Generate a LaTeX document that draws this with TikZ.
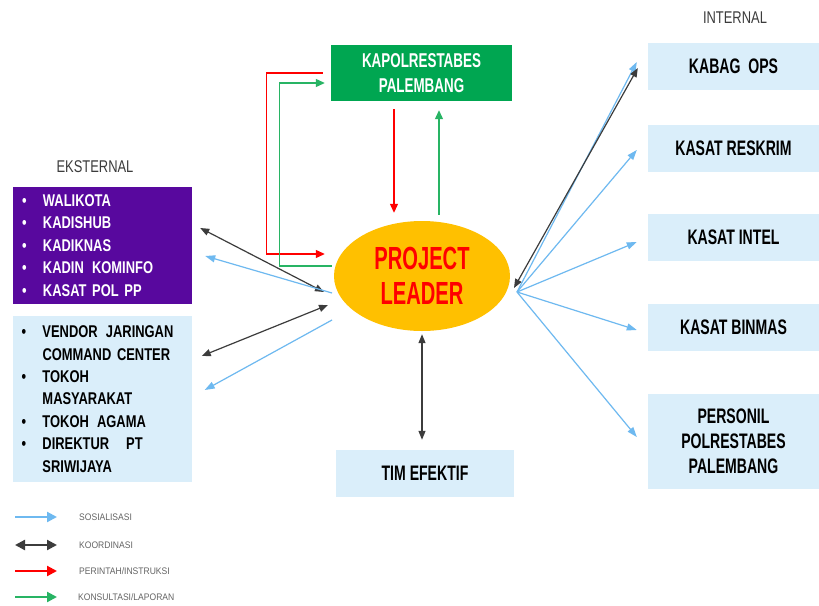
\documentclass[tikz,border=0pt]{standalone}
\usepackage{fontspec}
\setmainfont{Liberation Sans}[FakeStretch=0.67]
\newfontfamily\leftfont{Liberation Sans}[FakeStretch=0.76]
\newfontfamily\bigfont{Liberation Sans}[FakeStretch=0.63]
\newfontfamily\legfont{Liberation Sans}[FakeStretch=0.9]
\usetikzlibrary{arrows.meta,calc,shapes.geometric}
\definecolor{kgreen}{RGB}{0,166,81}
\definecolor{kpurple}{RGB}{88,8,158}
\definecolor{lblue}{RGB}{218,238,250}
\definecolor{sosblue}{RGB}{110,185,240}
\definecolor{koorgray}{RGB}{60,60,60}
\definecolor{lgreen}{RGB}{40,180,100}
\definecolor{porange}{RGB}{255,192,0}
\definecolor{hdrgray}{RGB}{60,60,60}
\definecolor{leggray}{RGB}{100,100,100}
\tikzset{
  rbox/.style={rectangle, fill=lblue, inner sep=0pt, align=center,
    font=\bfseries\fontsize{21}{25}\selectfont},
  lbox/.style={rectangle, inner xsep=9pt, inner ysep=0pt, align=left,
    text width=161pt, minimum width=179pt,
    font=\leftfont\bfseries\fontsize{17}{22.4}\selectfont},
  hdr/.style={inner sep=0pt, text=hdrgray, font=\leftfont\fontsize{17}{20}\selectfont},
  leg/.style={inner sep=0pt, anchor=west, text=leggray, font=\legfont\fontsize{9.5}{11}\selectfont},
  sos/.style={draw=sosblue, line width=1.2pt, -{Triangle[length=10pt,width=7pt]}},
  koor/.style={draw=koorgray, line width=1.2pt, {Triangle[length=9pt,width=7pt]}-{Triangle[length=9pt,width=7pt]}},
  perin/.style={draw=red, line width=1.2pt, -{Triangle[length=9pt,width=8pt]}},
  kons/.style={draw=lgreen, line width=1.2pt, -{Triangle[length=9pt,width=8pt]}},
  legarrow/.style={line width=2.2pt},
  legtip/.style={-{Triangle[length=10pt,width=10pt]}},
  legtips/.style={{Triangle[length=10pt,width=10pt]}-{Triangle[length=10pt,width=10pt]}},
}
\newcommand{\bul}{\makebox[21pt][l]{\textbullet}}
\newcommand{\nobul}{\hspace*{21pt}}
\newcommand{\wsp}{\ \hspace{2.5pt}}
\begin{document}
\begin{tikzpicture}[x=1pt,y=-1pt]
\fill[white] (0,0) rectangle (819,605);
\useasboundingbox (0,0) rectangle (819,605);

% headers
\node[hdr] (internal) at (735,18) {INTERNAL};
\node[hdr] (eksternal) at (95,167) {EKSTERNAL};

% top box
\node[rectangle, fill=kgreen, text=white, minimum width=181pt, minimum height=56pt,
  inner sep=0pt, align=center, font=\bfseries\fontsize{20}{25}\selectfont]
  (kapol) at (421.5,73) {KAPOLRESTABES\\PALEMBANG};

% project leader
\node[ellipse, fill=porange, minimum width=176pt, minimum height=110pt, inner sep=0pt,
  text=red, align=center, font=\bigfont\bfseries\fontsize{32}{35}\selectfont]
  (pl) at (422,276) {PROJECT\\LEADER};

% left boxes
\node[lbox, fill=kpurple, text=white, minimum height=117pt] (purple) at (102.5,245.5)
  {\bul WALIKOTA\\\bul KADISHUB\\\bul KADIKNAS\\\bul KADIN\wsp KOMINFO\\\bul KASAT POL PP};
\node[lbox, fill=lblue, text=black, minimum height=166pt] (lblue) at (102,399)
  {\bul VENDOR\wsp JARINGAN\\\nobul COMMAND CENTER\\\bul TOKOH\\\nobul MASYARAKAT\\\bul TOKOH\wsp AGAMA\\\bul DIREKTUR\ \ \ PT\\\nobul SRIWIJAYA};

% bottom box
\node[rbox, minimum width=178pt, minimum height=47pt] (tim) at (425,473.5) {TIM EFEKTIF};

% right boxes
\node[rbox, minimum width=171pt, minimum height=47pt] (kabag) at (733.5,66.5) {KABAG\ \ OPS};
\node[rbox, minimum width=171pt, minimum height=47pt] (reskrim) at (733.5,148) {KASAT RESKRIM};
\node[rbox, minimum width=171pt, minimum height=47pt] (intel) at (733.5,237.5) {KASAT INTEL};
\node[rbox, minimum width=171pt, minimum height=47pt] (binmas) at (733.5,327.5) {KASAT BINMAS};
\node[rbox, minimum width=171pt, minimum height=95pt] (personil) at (733.5,441.5) {PERSONIL\\POLRESTABES\\PALEMBANG};

% hubs
\coordinate (hubR) at (517,292);
\coordinate (hubK) at (514,288);
\coordinate (hubL1) at (324,292);
\coordinate (hubL2) at (332,293);
\coordinate (hubL3) at (328,305);
\coordinate (hubL4) at (332,320);

% red / green
\draw[perin] ($(kapol.west)+(-8,0)$) -- ++(-56,0) |- ($(pl.west)+(-9,-22)$);
\draw[kons] ($(pl.west)+(-2,-10)$) -- ++(-52,0) |- ($(kapol.west)+(-6,10)$);
\draw[perin] ($(kapol.south)+(-27.5,8)$) -- ($(pl.north)+(-28,-8)$);
\draw[kons] ($(pl.north)+(17,-6)$) -- ($(kapol.south)+(17.5,9)$);

% tim
\draw[koor] ($(pl.south)+(0,3)$) -- ($(pl.south |- tim.north)+(0,-10)$);

% right fan
\draw[sos] (hubR) -- ($(kabag.west)+(-11,-4.5)$);
\draw[koor] (hubK) -- ($(kabag.west)+(-10,1.5)$);
\draw[sos] (hubR) -- ($(reskrim.west)+(-11,2)$);
\draw[sos] (hubR) -- ($(intel.west)+(-11,4.5)$);
\draw[sos] (hubR) -- ($(binmas.west)+(-11,2.5)$);
\draw[sos] (hubR) -- ($(personil.west)+(-11,-4.5)$);

% left
\draw[koor] ($(purple.east)+(8,-17.5)$) -- (hubL1);
\draw[sos] (hubL2) -- ($(purple.east)+(13,10.5)$);
\draw[koor] ($(lblue.east)+(10,-43)$) -- (hubL3);
\draw[sos] (hubL4) -- ($(lblue.east)+(13,-9)$);

% legend
\coordinate (l1a) at (15,517); \coordinate (l1b) at (57,517);
\coordinate (l2a) at (15,545); \coordinate (l2b) at (57,545);
\coordinate (l3a) at (15,571); \coordinate (l3b) at (57,571);
\coordinate (l4a) at (15,597); \coordinate (l4b) at (57,597);
\draw[draw=sosblue, legarrow, legtip] (l1a) -- (l1b);
\draw[draw=koorgray, legarrow, legtips] (l2a) -- (l2b);
\draw[draw=red, legarrow, legtip] (l3a) -- (l3b);
\draw[draw=lgreen, legarrow, legtip] (l4a) -- (l4b);
\node[leg] (leg1) at (79,517) {SOSIALISASI};
\node[leg] (leg2) at (79,545) {KOORDINASI};
\node[leg] (leg3) at (79,571) {PERINTAH/INSTRUKSI};
\node[leg] (leg4) at (78,597) {KONSULTASI/LAPORAN};
\end{tikzpicture}
\end{document}
